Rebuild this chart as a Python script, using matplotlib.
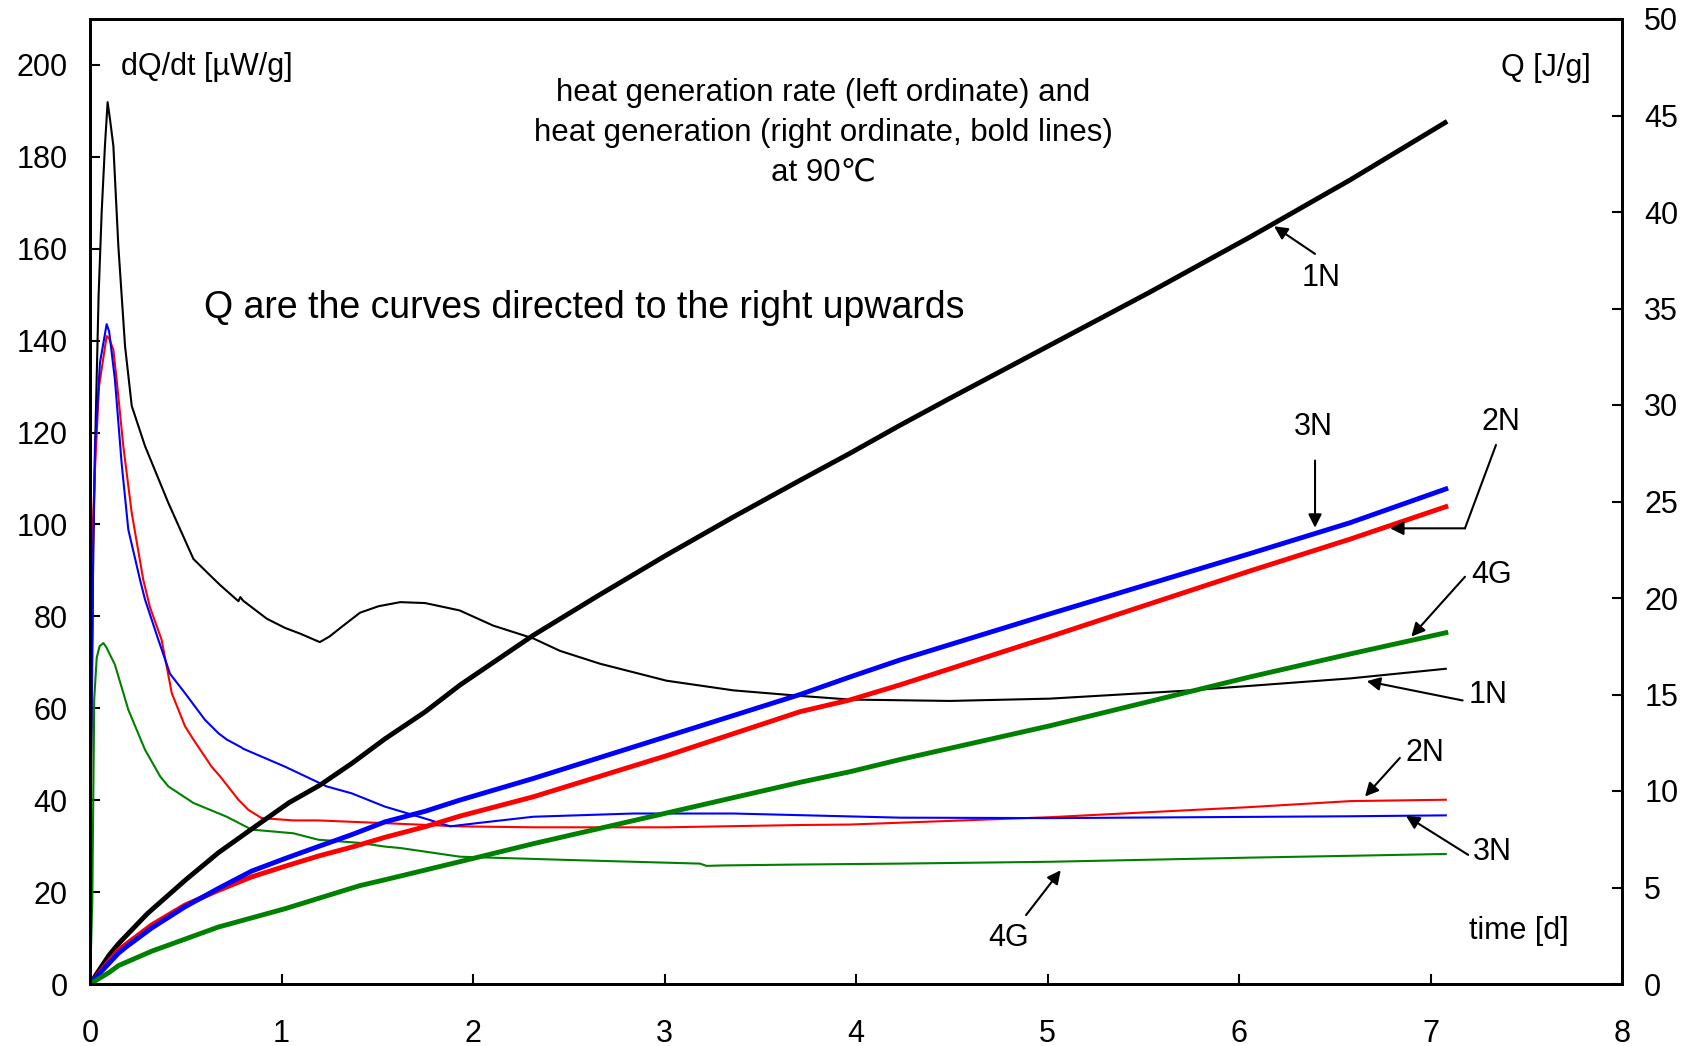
import matplotlib
matplotlib.use("Agg")
import matplotlib.pyplot as plt

plt.rcParams['font.family'] = ['Liberation Sans', 'DejaVu Sans']

# ---- heat generation rate dQ/dt [µW/g] (left ordinate, thin lines) ----
t_rate_1N = [0, 0.005, 0.017, 0.03, 0.045, 0.061, 0.078, 0.092, 0.105, 0.122, 0.148, 0.183,
             0.218, 0.287, 0.409, 0.54, 0.618, 0.68, 0.775, 0.785, 0.80, 0.923, 1.018, 1.1,
             1.15, 1.2, 1.25, 1.323, 1.41, 1.506, 1.62, 1.75, 1.93, 2.105, 2.315, 2.454,
             2.663, 3.011, 3.36, 3.708, 3.969, 4.49, 5.013, 5.71, 6.58, 7.08]
rate_1N = [0, 40, 95, 123, 150, 168, 182.4, 191.9, 188, 182.4, 160.6, 138.8,
           125.8, 117.1, 104.7, 92.5, 89.3, 86.8, 83.3, 84.2, 83.4, 79.5, 77.5, 76.2,
           75.3, 74.4, 75.6, 78.0, 80.8, 82.2, 83.1, 82.9, 81.3, 78.0, 75.2, 72.5,
           69.7, 66.0, 63.9, 62.7, 61.9, 61.6, 62.1, 63.8, 66.5, 68.6]

t_rate_2N = [0, 0.005, 0.015, 0.026, 0.047, 0.087, 0.1, 0.122, 0.139, 0.174, 0.218, 0.278,
             0.313, 0.374, 0.427, 0.496, 0.54, 0.635, 0.679, 0.775, 0.827, 0.896, 1.062,
             1.19, 1.54, 1.932, 2.315, 3.011, 3.708, 3.969, 4.23, 5.013, 6.057, 6.58, 7.08]
rate_2N = [0, 55, 100, 112, 130, 141, 140.5, 138, 131.6, 117, 102.5, 88,
           82, 74.9, 63.3, 56.1, 53.2, 47.3, 45.2, 40.1, 37.9, 36.1, 35.6,
           35.6, 35.0, 34.3, 34.1, 34.1, 34.6, 34.7, 35.1, 36.3, 38.5, 39.8, 40.1]

t_rate_3N = [0, 0.005, 0.017, 0.026, 0.052, 0.087, 0.1, 0.13, 0.165, 0.2, 0.261, 0.287,
             0.357, 0.418, 0.496, 0.6, 0.67, 0.714, 0.79, 0.8, 1.018, 1.236, 1.366, 1.54,
             1.75, 1.88, 2.02, 2.315, 2.837, 3.36, 4.23, 5.013, 6.58, 7.08]
rate_3N = [0, 50, 95, 117, 135.2, 143.6, 142, 131.6, 113.4, 98.9, 88, 83.7,
           74.9, 67.5, 63.3, 57.5, 54.6, 53.2, 51.5, 51.2, 47.3, 43, 41.5, 38.6,
           36.0, 34.3, 35.0, 36.4, 37.1, 37.1, 36.2, 36.1, 36.5, 36.7]

t_rate_4G = [0, 0.012, 0.017, 0.022, 0.035, 0.05, 0.07, 0.085, 0.13, 0.2, 0.287, 0.366,
             0.409, 0.54, 0.714, 0.844, 1.062, 1.192, 1.41, 1.54, 1.619, 1.932, 2.49,
             3.185, 3.22, 3.3, 3.708, 4.23, 5.013, 6.057, 6.58, 7.08]
rate_4G = [0, 18, 40, 62, 71, 73.5, 74.2, 73.3, 69.5, 59.7, 51, 45.2,
           43, 39.4, 36.4, 33.6, 32.8, 31.4, 30.7, 29.9, 29.6, 27.7, 27.0,
           26.2, 25.7, 25.8, 26.0, 26.2, 26.6, 27.5, 27.9, 28.3]

# ---- heat generation Q [J/g] (right ordinate, bold lines) ----
t_Q_1N = [0, 0.05, 0.1, 0.15, 0.3, 0.5, 0.67, 0.84, 1.04, 1.2, 1.37, 1.54, 1.75, 1.932,
          2.315, 2.65, 3.011, 3.36, 3.708, 3.969, 4.23, 4.491, 5.013, 5.535, 6.057, 6.58, 7.076]
Q_1N = [0, 0.75, 1.5, 2.1, 3.65, 5.4, 6.8, 8.0, 9.4, 10.3, 11.45, 12.7, 14.1, 15.49,
        18.07, 20.1, 22.23, 24.2, 26.1, 27.5, 28.95, 30.35, 33.1, 35.85, 38.7, 41.66, 44.63]

t_Q_2N = [0, 0.05, 0.148, 0.322, 0.496, 0.67, 0.844, 1.018, 1.2, 1.37, 1.54, 1.75, 1.932,
          2.315, 3.011, 3.708, 3.969, 4.23, 5.013, 6.057, 6.58, 7.08]
Q_2N = [0, 0.6, 1.76, 3.06, 4.09, 4.85, 5.55, 6.1, 6.65, 7.1, 7.6, 8.15, 8.70,
        9.7, 11.83, 14.11, 14.72, 15.5, 18.0, 21.4, 23.05, 24.73]

t_Q_3N = [0, 0.05, 0.148, 0.19, 0.322, 0.496, 0.67, 0.844, 1.018, 1.2, 1.37, 1.54, 1.75,
          1.932, 2.315, 3.011, 3.708, 3.969, 4.23, 5.013, 6.057, 6.58, 7.08]
Q_3N = [0, 0.55, 1.59, 1.93, 2.9, 4.0, 4.95, 5.85, 6.5, 7.15, 7.75, 8.4, 8.95,
        9.53, 10.65, 12.82, 15.0, 15.91, 16.79, 19.18, 22.3, 23.9, 25.65]

t_Q_4G = [0, 0.1, 0.148, 0.322, 0.67, 1.018, 1.41, 1.54, 1.932, 2.315, 3.011, 3.708,
          3.969, 4.23, 5.013, 6.057, 6.58, 7.08]
Q_4G = [0, 0.6, 0.95, 1.7, 2.95, 3.9, 5.1, 5.4, 6.34, 7.27, 8.86, 10.45,
        11.0, 11.63, 13.38, 15.91, 17.1, 18.2]

x_ticks = [0, 1, 2, 3, 4, 5, 6, 7, 8]
left_ticks = [0, 20, 40, 60, 80, 100, 120, 140, 160, 180, 200]
right_ticks = [0, 5, 10, 15, 20, 25, 30, 35, 40, 45, 50]

C_1N, C_2N, C_3N, C_4G = 'black', '#ff0000', '#0000ff', '#008000'
FS = 22

fig = plt.figure(figsize=(16.86, 10.46), dpi=100)
ax = fig.add_axes([90 / 1686, 1 - 984 / 1046, (1622 - 90) / 1686, (984 - 19) / 1046])
ax2 = ax.twinx()

for t, v, c in [(t_rate_1N, rate_1N, C_1N), (t_rate_2N, rate_2N, C_2N),
                (t_rate_3N, rate_3N, C_3N), (t_rate_4G, rate_4G, C_4G)]:
    ax.plot(t, v, color=c, lw=1.5)
for t, v, c in [(t_Q_1N, Q_1N, C_1N), (t_Q_2N, Q_2N, C_2N),
                (t_Q_3N, Q_3N, C_3N), (t_Q_4G, Q_4G, C_4G)]:
    ax2.plot(t, v, color=c, lw=3.5)

ax.set_xlim(0, 8)
ax.set_ylim(0, 210)
ax2.set_ylim(0, 50)
ax.set_xticks(x_ticks)
ax.set_yticks(left_ticks)
ax2.set_yticks(right_ticks)

for a in (ax, ax2):
    for s in a.spines.values():
        s.set_linewidth(2)
ax.tick_params(axis='both', direction='in', length=7.5, width=1.5, labelsize=FS)
ax.tick_params(axis='y', pad=16)
ax.tick_params(axis='x', pad=25)
ax2.tick_params(axis='y', direction='in', length=7.5, width=1.5, labelsize=FS, pad=16)

# texts
ax.text(0.16, 199.5, 'dQ/dt [µW/g]', fontsize=FS, ha='left', va='center')
ax.text(7.60, 199.4, 'Q [J/g]', fontsize=FS, ha='center', va='center')
ax.text(7.46, 11.6, 'time [d]', fontsize=FS, ha='center', va='center')
ax.text(3.83, 193.9, 'heat generation rate (left ordinate) and', fontsize=22.5, ha='center', va='center')
ax.text(3.83, 185.2, 'heat generation (right ordinate, bold lines)', fontsize=22.5, ha='center', va='center')
ax.text(3.83, 176.6, 'at 90℃', fontsize=22.5, ha='center', va='center')
ax.text(0.595, 147.0, 'Q are the curves directed to the right upwards', fontsize=27,
        ha='left', va='center')

arrow = dict(arrowstyle='-|>', color='black', lw=1.5, mutation_scale=20,
             shrinkA=0, shrinkB=0)

def label(a, text, pos, start, tip):
    a.text(pos[0], pos[1], text, fontsize=FS, ha='center', va='center')
    a.annotate('', xy=tip, xytext=start, arrowprops=arrow)

# right-ordinate (bold line) labels
label(ax2, '1N', (6.43, 36.6), (6.397, 37.83), (6.183, 39.26))
label(ax2, '3N', (6.388, 28.85), (6.397, 27.12), (6.397, 23.64))
ax2.annotate('', xy=(7.18, 23.61), xytext=(7.342, 27.93),
             arrowprops=dict(arrowstyle='-', color='black', lw=1.5, shrinkA=0, shrinkB=0))
label(ax2, '2N', (7.37, 29.13), (7.18, 23.61), (6.789, 23.61))
label(ax2, '4G', (7.32, 21.19), (7.18, 21.1), (6.90, 18.0))

# left-ordinate (thin line) labels
label(ax, '1N', (7.30, 62.96), (7.168, 61.7), (6.667, 65.9))
label(ax, '2N', (6.97, 50.3), (6.84, 49.2), (6.658, 40.8))
label(ax, '3N', (7.325, 28.8), (7.197, 28.1), (6.872, 36.6))
label(ax, '4G', (4.795, 10.0), (4.888, 15.0), (5.069, 24.75))

fig.savefig('out.png', dpi=100)
